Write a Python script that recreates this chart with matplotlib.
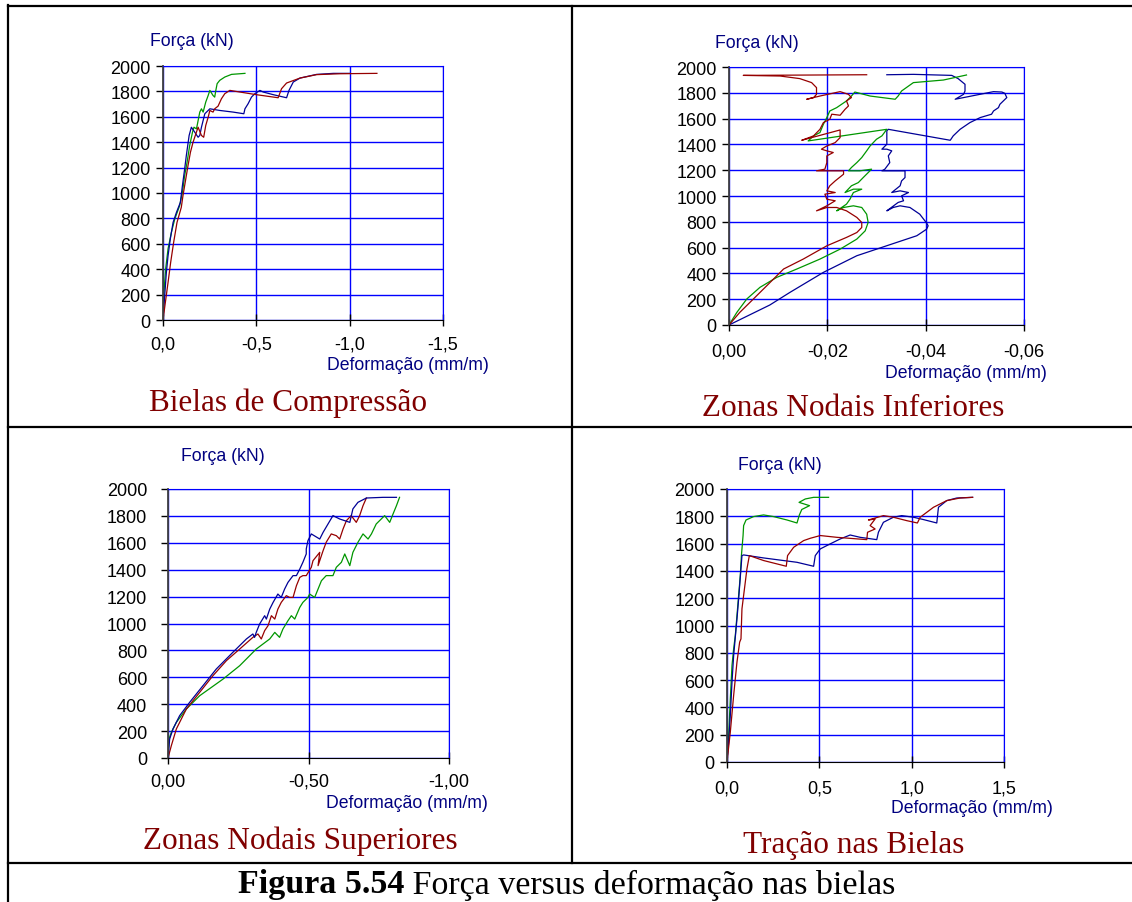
import matplotlib
matplotlib.use('Agg')
import matplotlib.pyplot as plt
from matplotlib.lines import Line2D
from matplotlib.ticker import FuncFormatter

# Bielas de Compressão (deformação negativa, mm/m ; força kN)
bc_verde = [(0, 0), (-0.005, 215), (-0.014, 400), (-0.027, 560), (-0.045, 690), (-0.063, 795),
            (-0.089, 900), (-0.104, 1005), (-0.116, 1137), (-0.129, 1242), (-0.143, 1374),
            (-0.158, 1479), (-0.166, 1518), (-0.179, 1505), (-0.183, 1532), (-0.197, 1637),
            (-0.206, 1663), (-0.215, 1637), (-0.229, 1716), (-0.242, 1768), (-0.251, 1808),
            (-0.268, 1768), (-0.277, 1755), (-0.283, 1808), (-0.290, 1861), (-0.304, 1887),
            (-0.331, 1913), (-0.367, 1934), (-0.439, 1942)]
bc_azul = [(0, 0), (-0.009, 189), (-0.018, 374), (-0.027, 505), (-0.039, 637), (-0.054, 768),
           (-0.072, 847), (-0.093, 926), (-0.104, 1058), (-0.116, 1189), (-0.125, 1295),
           (-0.140, 1453), (-0.152, 1518), (-0.170, 1479), (-0.188, 1439), (-0.197, 1453),
           (-0.206, 1518), (-0.224, 1624), (-0.242, 1650), (-0.251, 1663), (-0.304, 1650),
           (-0.376, 1637), (-0.433, 1624), (-0.439, 1663), (-0.456, 1703), (-0.474, 1755),
           (-0.492, 1782), (-0.519, 1808), (-0.537, 1795), (-0.591, 1774), (-0.662, 1750),
           (-0.675, 1808), (-0.698, 1874), (-0.734, 1905), (-0.823, 1934), (-0.913, 1942),
           (-1.002, 1942)]
bc_vermelho = [(0, 0), (-0.0125, 137), (-0.027, 295), (-0.041, 453), (-0.057, 611), (-0.075, 768),
               (-0.098, 887), (-0.107, 979), (-0.122, 1111), (-0.134, 1216), (-0.147, 1321),
               (-0.161, 1400), (-0.179, 1479), (-0.188, 1518), (-0.206, 1453), (-0.218, 1439),
               (-0.229, 1532), (-0.242, 1597), (-0.251, 1650), (-0.268, 1637), (-0.277, 1663),
               (-0.295, 1684), (-0.313, 1742), (-0.331, 1782), (-0.358, 1808), (-0.412, 1795),
               (-0.501, 1774), (-0.617, 1750), (-0.635, 1821), (-0.662, 1866), (-0.734, 1905),
               (-0.823, 1932), (-0.949, 1939), (-1.146, 1942)]

# Zonas Nodais Inferiores
ni_azul = [(0, 0), (-0.0083, 155), (-0.0124, 253), (-0.0192, 408), (-0.0260, 537), (-0.0341, 640),
           (-0.0382, 692), (-0.0402, 743), (-0.0405, 769), (-0.0402, 790), (-0.0388, 859),
           (-0.0368, 911), (-0.0348, 924), (-0.0334, 911), (-0.0321, 885), (-0.0344, 950),
           (-0.0355, 963), (-0.0351, 1001), (-0.0365, 1027), (-0.0348, 1040), (-0.0331, 1027),
           (-0.0348, 1079), (-0.0351, 1117), (-0.0358, 1143), (-0.0358, 1195), (-0.0331, 1195),
           (-0.0311, 1195), (-0.0317, 1208), (-0.0327, 1259), (-0.0324, 1311), (-0.0331, 1350),
           (-0.0321, 1363), (-0.0311, 1363), (-0.0321, 1401), (-0.0321, 1453), (-0.0321, 1505),
           (-0.0324, 1517), (-0.0450, 1432), (-0.0456, 1466), (-0.0470, 1517), (-0.0490, 1569),
           (-0.0511, 1608), (-0.0534, 1634), (-0.0538, 1659), (-0.0548, 1685), (-0.0551, 1711),
           (-0.0558, 1737), (-0.0565, 1763), (-0.0561, 1796), (-0.0555, 1806), (-0.0538, 1809),
           (-0.0460, 1750), (-0.0477, 1788), (-0.0480, 1814), (-0.0480, 1866), (-0.0466, 1910),
           (-0.0453, 1935), (-0.0375, 1943), (-0.0321, 1940)]
ni_verde = [(0, 0), (-0.0016, 98), (-0.0036, 201), (-0.0063, 292), (-0.0097, 369), (-0.0138, 434),
            (-0.0185, 511), (-0.0226, 588), (-0.0260, 666), (-0.0277, 730), (-0.0283, 795),
            (-0.0280, 859), (-0.0270, 911), (-0.0253, 924), (-0.0233, 911), (-0.0219, 885),
            (-0.0239, 937), (-0.0246, 975), (-0.0253, 1027), (-0.0270, 1053), (-0.0253, 1053),
            (-0.0236, 1027), (-0.0249, 1079), (-0.0263, 1104), (-0.0273, 1143), (-0.0290, 1208),
            (-0.0266, 1195), (-0.0243, 1195), (-0.0249, 1221), (-0.0260, 1259), (-0.0270, 1298),
            (-0.0280, 1350), (-0.0287, 1388), (-0.0300, 1440), (-0.0311, 1466), (-0.0321, 1517),
            (-0.0161, 1427), (-0.0172, 1466), (-0.0185, 1492), (-0.0192, 1556), (-0.0199, 1608),
            (-0.0205, 1659), (-0.0219, 1685), (-0.0239, 1737), (-0.0249, 1775), (-0.0256, 1806),
            (-0.0287, 1775), (-0.0338, 1750), (-0.0344, 1775), (-0.0351, 1814), (-0.0375, 1879),
            (-0.0436, 1899), (-0.0483, 1938)]
ni_vermelho = [(0, 0), (-0.0022, 98), (-0.0046, 188), (-0.0077, 305), (-0.0111, 434), (-0.0151, 511),
               (-0.0199, 614), (-0.0239, 679), (-0.0260, 717), (-0.0270, 756), (-0.0270, 795),
               (-0.0260, 834), (-0.0239, 885), (-0.0219, 911), (-0.0199, 911), (-0.0178, 885),
               (-0.0199, 924), (-0.0216, 963), (-0.0199, 975), (-0.0195, 1014), (-0.0216, 1027),
               (-0.0199, 1040), (-0.0205, 1079), (-0.0216, 1117), (-0.0233, 1169), (-0.0233, 1195),
               (-0.0178, 1195), (-0.0195, 1208), (-0.0199, 1259), (-0.0199, 1311), (-0.0212, 1337),
               (-0.0199, 1350), (-0.0188, 1363), (-0.0199, 1388), (-0.0216, 1414), (-0.0226, 1453),
               (-0.0226, 1512), (-0.0148, 1432), (-0.0172, 1466), (-0.0185, 1517), (-0.0192, 1569),
               (-0.0205, 1595), (-0.0209, 1634), (-0.0226, 1626), (-0.0236, 1672), (-0.0243, 1698),
               (-0.0239, 1737), (-0.0249, 1763), (-0.0243, 1788), (-0.0226, 1809), (-0.0185, 1775),
               (-0.0158, 1750), (-0.0172, 1763), (-0.0178, 1788), (-0.0178, 1840), (-0.0168, 1879),
               (-0.0144, 1910), (-0.0104, 1930), (-0.0029, 1935), (-0.0280, 1940)]

# Zonas Nodais Superiores
ns_azul = [(0, 0), (-0.0059, 141), (-0.0178, 216), (-0.0415, 315), (-0.0771, 414), (-0.1246, 538),
           (-0.172, 662), (-0.231, 786), (-0.279, 885), (-0.302, 922), (-0.308, 897), (-0.314, 934),
           (-0.326, 996), (-0.344, 1058), (-0.350, 1033), (-0.362, 1107), (-0.374, 1157),
           (-0.391, 1219), (-0.403, 1194), (-0.415, 1256), (-0.427, 1306), (-0.445, 1356),
           (-0.457, 1356), (-0.469, 1405), (-0.480, 1455), (-0.492, 1517), (-0.492, 1554),
           (-0.498, 1616), (-0.510, 1666), (-0.540, 1628), (-0.552, 1678), (-0.587, 1802),
           (-0.611, 1777), (-0.647, 1752), (-0.658, 1852), (-0.676, 1901), (-0.706, 1933),
           (-0.765, 1938), (-0.813, 1938)]
ns_vermelho = [(0, 0), (-0.0119, 92), (-0.0297, 216), (-0.0652, 364), (-0.1127, 488), (-0.160, 612),
               (-0.208, 724), (-0.255, 810), (-0.302, 897), (-0.320, 922), (-0.332, 885),
               (-0.344, 947), (-0.356, 984), (-0.368, 1058), (-0.380, 1033), (-0.391, 1107),
               (-0.403, 1157), (-0.421, 1207), (-0.433, 1194), (-0.445, 1194), (-0.457, 1281),
               (-0.469, 1343), (-0.480, 1356), (-0.492, 1356), (-0.510, 1418), (-0.516, 1467),
               (-0.540, 1529), (-0.534, 1430), (-0.552, 1542), (-0.563, 1604), (-0.581, 1666),
               (-0.599, 1653), (-0.611, 1628), (-0.623, 1703), (-0.635, 1765), (-0.652, 1802),
               (-0.670, 1752), (-0.682, 1802), (-0.694, 1876), (-0.706, 1933)]
ns_verde = [(0, 0), (-0.0036, 141), (-0.0119, 191), (-0.0297, 265), (-0.0652, 364), (-0.1127, 463),
            (-0.196, 587), (-0.255, 686), (-0.314, 810), (-0.362, 885), (-0.380, 934), (-0.397, 897),
            (-0.409, 959), (-0.427, 1021), (-0.439, 1058), (-0.451, 1033), (-0.469, 1120),
            (-0.480, 1157), (-0.498, 1194), (-0.504, 1219), (-0.522, 1194), (-0.534, 1256),
            (-0.546, 1318), (-0.563, 1356), (-0.587, 1356), (-0.599, 1418), (-0.617, 1455),
            (-0.629, 1517), (-0.647, 1430), (-0.658, 1529), (-0.676, 1604), (-0.694, 1666),
            (-0.712, 1628), (-0.724, 1666), (-0.741, 1740), (-0.771, 1802), (-0.789, 1752),
            (-0.801, 1815), (-0.813, 1876), (-0.824, 1938)]

# Tração nas Bielas
tb_verde = [(0, 0), (0.009, 195), (0.018, 463), (0.027, 707), (0.036, 829), (0.045, 927),
            (0.054, 1073), (0.063, 1220), (0.072, 1366), (0.078, 1512), (0.081, 1561),
            (0.087, 1659), (0.090, 1732), (0.103, 1773), (0.144, 1798), (0.198, 1810),
            (0.252, 1798), (0.325, 1773), (0.379, 1751), (0.392, 1810), (0.405, 1850),
            (0.447, 1878), (0.390, 1902), (0.424, 1927), (0.469, 1939), (0.550, 1939)]
tb_azul = [(0, 0), (0.009, 146), (0.018, 341), (0.027, 585), (0.036, 780), (0.045, 915),
           (0.054, 1049), (0.063, 1195), (0.072, 1354), (0.081, 1512), (0.090, 1517),
           (0.198, 1495), (0.379, 1463), (0.469, 1434), (0.478, 1512), (0.505, 1561),
           (0.559, 1598), (0.613, 1634), (0.667, 1663), (0.721, 1646), (0.811, 1629),
           (0.820, 1683), (0.847, 1756), (0.901, 1793), (0.946, 1805), (1.010, 1793),
           (1.064, 1776), (1.136, 1751), (1.145, 1866), (1.190, 1915), (1.244, 1934),
           (1.330, 1939)]
tb_vermelho = [(0, 0), (0.018, 220), (0.036, 488), (0.054, 732), (0.0685, 878), (0.0757, 902),
               (0.081, 1122), (0.090, 1220), (0.099, 1317), (0.108, 1415), (0.121, 1512),
               (0.198, 1476), (0.321, 1434), (0.328, 1512), (0.361, 1573), (0.415, 1622),
               (0.451, 1639), (0.505, 1659), (0.595, 1646), (0.757, 1629), (0.761, 1683),
               (0.802, 1707), (0.775, 1732), (0.802, 1780), (0.766, 1773), (0.847, 1805),
               (0.901, 1793), (0.974, 1768), (1.031, 1751), (1.046, 1793), (1.118, 1866),
               (1.190, 1915), (1.262, 1934), (1.330, 1939)]

forca_ticks = list(range(0, 2001, 200))

W, H = 1132, 903
fig = plt.figure(figsize=(W / 100, H / 100), dpi=100)
plt.rcParams['font.family'] = ['Liberation Sans', 'DejaVu Sans']

AZUL = '#000096'
VERMELHO = '#960000'
VERDE = '#009600'
GRADE = '#0000FF'
ROTULO = '#000080'
TITULO = '#800000'


def fx(px):
    return px / W


def fy(py):
    return 1 - py / H


def painel(caixa, xlim, xticks, dec, curvas, titulo, pos_titulo, pos_forca, pos_deform, xpad, ypad):
    l, r, t, b = caixa
    ax = fig.add_axes([fx(l), fy(b), (r - l) / W, (b - t) / H])
    ax.set_axisbelow(True)
    for pts, cor in curvas:
        ax.plot([p[0] for p in pts], [p[1] for p in pts], color=cor, lw=0.9)
    ax.set_xlim(xlim)
    ax.set_ylim(0, 2000)
    ax.set_xticks(xticks)
    ax.set_yticks(forca_ticks)
    fmt = lambda v, pos: f"{0.0 if abs(v) < 1e-9 else v:.{dec}f}".replace('.', ',')
    ax.xaxis.set_major_formatter(FuncFormatter(fmt))
    ax.grid(True, color=GRADE, lw=1.0)
    ax.spines['top'].set_color(GRADE)
    ax.spines['right'].set_color(GRADE)
    ax.spines['bottom'].set_color('black')
    ax.spines['left'].set_color('#404040')
    ax.spines['left'].set_linewidth(1.3)
    ax.tick_params(axis='x', direction='inout', length=9, width=1, pad=xpad, labelsize=13)
    ax.tick_params(axis='y', direction='out', length=5, width=1, pad=ypad, labelsize=13)
    fig.text(fx(pos_forca[0]), fy(pos_forca[1]), 'Força (kN)', color=ROTULO, fontsize=12.7,
             ha='center', va='center')
    fig.text(fx(pos_deform[0]), fy(pos_deform[1]), 'Deformação (mm/m)', color=ROTULO, fontsize=12.7,
             ha='right', va='center')
    fig.text(fx(pos_titulo[0]), fy(pos_titulo[1]), titulo, color=TITULO, fontsize=22.5,
             family='Liberation Serif', ha='center', va='center')
    return ax


painel((163, 443, 67, 321), (0, -1.5), [0, -0.5, -1.0, -1.5], 1,
       [(bc_verde, VERDE), (bc_azul, AZUL), (bc_vermelho, VERMELHO)],
       'Bielas de Compressão', (288, 403), (192, 42), (489, 366), 7, 4)
painel((729, 1024, 68, 326), (0, -0.06), [0, -0.02, -0.04, -0.06], 2,
       [(ni_azul, AZUL), (ni_verde, VERDE), (ni_vermelho, VERMELHO)],
       'Zonas Nodais Inferiores', (853, 409), (757, 43), (1047, 373), 8, 4)
painel((168, 449, 490, 759), (0, -1.0), [0, -0.5, -1.0], 2,
       [(ns_verde, VERDE), (ns_vermelho, VERMELHO), (ns_azul, AZUL)],
       'Zonas Nodais Superiores', (300, 841), (223, 457), (488, 804), 6, 10)
painel((727, 1004, 490, 763), (0, 1.5), [0, 0.5, 1.0, 1.5], 1,
       [(tb_verde, VERDE), (tb_azul, AZUL), (tb_vermelho, VERMELHO)],
       'Tração nas Bielas', (854, 846), (780, 466), (1053, 809), 8, 4)

# linhas da tabela
linhas = [((8, 1132), (7, 7)), ((8, 8), (6, 903)), ((8, 1132), (428, 428)),
          ((572, 572), (7, 864)), ((8, 1132), (864, 864))]
for xs, ys in linhas:
    fig.add_artist(Line2D([fx(v) for v in xs], [fy(v) for v in ys], color='black', lw=1.6))

# legenda da figura
t1 = fig.text(0, fy(885), 'Figura 5.54', fontweight='bold', fontsize=24.5,
              family='Liberation Serif', ha='left', va='center')
t2 = fig.text(0, fy(885), ' Força versus deformação nas bielas', fontsize=24.5,
              family='Liberation Serif', ha='left', va='center')
fig.canvas.draw()
r = fig.canvas.get_renderer()
w1 = t1.get_window_extent(r).width
w2 = t2.get_window_extent(r).width
x0 = 567 - (w1 + w2) / 2
t1.set_x(fx(x0))
t2.set_x(fx(x0 + w1))

fig.savefig('out.png', dpi=100)
